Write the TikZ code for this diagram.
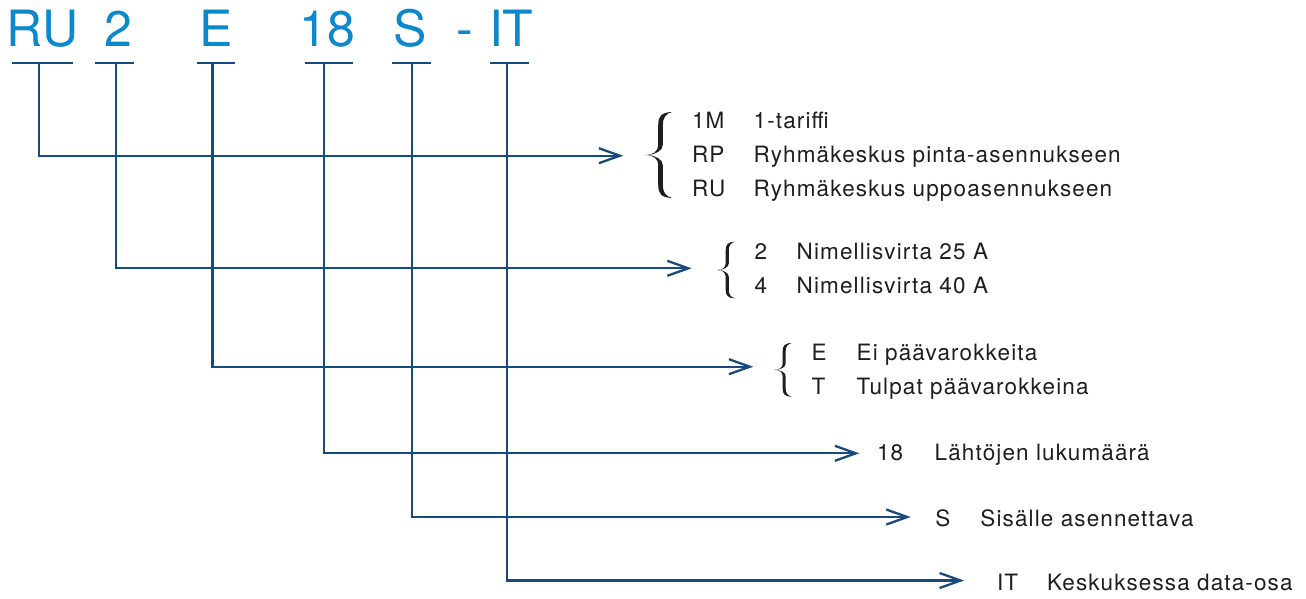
\documentclass[tikz,border=0pt]{standalone}
\usepackage{fontspec}
\setmainfont{TeX Gyre Heros}
\newfontfamily\labelfont[LetterSpace=5]{TeX Gyre Heros}
\usetikzlibrary{arrows.meta}
\definecolor{codeblue}{RGB}{12,136,204}
\definecolor{lineblue}{RGB}{24,74,128}
\definecolor{textgray}{RGB}{30,30,30}

\tikzset{
    % curly brace in a unit box, tip on the left
    curly/.pic={
        \fill[textgray] (1,0) .. controls (0.6,0.005) and (0.49,0.05) .. (0.49,0.15)
            -- (0.49,0.38) .. controls (0.49,0.46) and (0.3,0.5) .. (0,0.5)
            .. controls (0.3,0.5) and (0.49,0.54) .. (0.49,0.62)
            -- (0.49,0.85) .. controls (0.49,0.95) and (0.6,0.995) .. (1,1)
            .. controls (0.76,0.98) and (0.66,0.93) .. (0.66,0.85)
            -- (0.66,0.62) .. controls (0.66,0.55) and (0.4,0.51) .. (0.12,0.5)
            .. controls (0.4,0.49) and (0.66,0.45) .. (0.66,0.38)
            -- (0.66,0.15) .. controls (0.66,0.07) and (0.76,0.02) .. (1,0) -- cycle;
    }
}

\begin{document}
\begin{tikzpicture}[x=1pt, y=-1pt,
    code/.style={text=codeblue, font=\fontsize{50}{50}\selectfont, inner sep=0, anchor=base},
    bar/.style={draw=lineblue, line width=2.3pt},
    conn/.style={draw=lineblue, line width=2.3pt, -{Straight Barb[length=21pt, width=15pt]}},
    lbl/.style={text=textgray, font=\labelfont\fontsize{22.5}{22.5}\selectfont, inner sep=0, anchor=base west}
  ]
    \useasboundingbox (0,0) rectangle (1306,598);

    % type code
    \node[code] (c-ru) at (42.4,46.7) {RU};
    \node[code] (c-2) at (118.2,46.7) {2};
    \node[code] (c-e) at (216.6,46.7) {E};
    \node[code] (c-18) at (327.4,46.7) {18};
    \node[code] (c-s) at (410.2,46.7) {S};
    \node[code] (c-dash) at (464.7,46.7) {-};
    \node[code] (c-it) at (511.3,46.7) {IT};

    % bars under the code
    \foreach \a/\b/\v/\n in {12.1/72.7/39.3/ru, 95.2/134.3/116/2, 196.6/235.4/212.6/e,
                             304.6/353/324/18, 392/431/411.7/s, 489.8/528.6/506.8/it} {
        \draw[bar] (\a,63.3) -- (\b,63.3);
        \coordinate (b-\n) at (\v,63.3);
    }

    % arrow tips
    \coordinate (t-ru) at (623.3,155.7);
    \coordinate (t-2) at (691.7,268.3);
    \coordinate (t-e) at (753.3,366.7);
    \coordinate (t-18) at (859.3,453.3);
    \coordinate (t-s) at (910.7,517);
    \coordinate (t-it) at (964,580.5);

    \foreach \n in {ru, 2, e, 18, s, it}
        \draw[conn] (b-\n) |- (t-\n);

    % braces
    \pic[xscale=27, yscale=86] (br-1) at (645,112) {curly};
    \pic[xscale=18.3, yscale=56.6] (br-2) at (716.7,241.7) {curly};
    \pic[xscale=17.7, yscale=53.7] (br-3) at (774,343) {curly};

    % explanations
    \foreach \x/\xx/\y/\k/\d [count=\i] in {
        691.8/753.5/128.3/1M/1-tariffi,
        691.8/753.5/162.7/RP/Ryhmäkeskus pinta-asennukseen,
        691.8/753.5/196/RU/Ryhmäkeskus uppoasennukseen,
        754.5/796.5/259.3/2/Nimellisvirta 25 A,
        754.5/796.5/293/4/Nimellisvirta 40 A,
        811.5/856.5/360.7/E/Ei päävarokkeita,
        811.5/856.5/394/T/Tulpat päävarokkeina,
        876.8/934.5/460/18/Lähtöjen lukumäärä,
        935.2/980.2/526.7/S/Sisälle asennettava,
        996.8/1046.8/590/IT/Keskuksessa data-osa} {
        \node[lbl] (k-\i) at (\x,\y) {\k};
        \node[lbl] (d-\i) at (\xx,\y) {\d};
    }
\end{tikzpicture}
\end{document}
